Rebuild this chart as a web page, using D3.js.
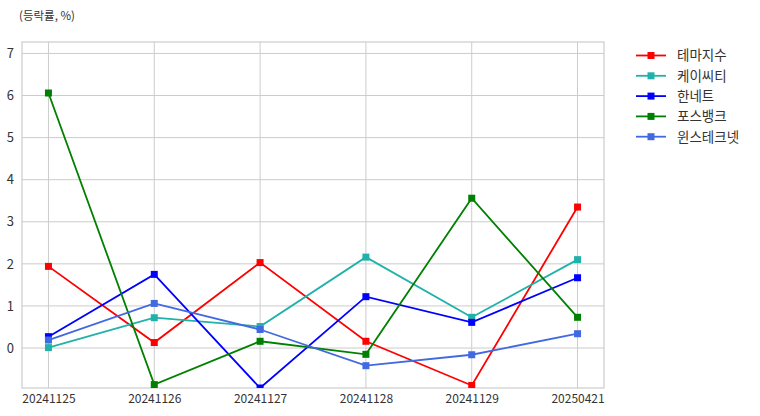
<!DOCTYPE html>
<html><head><meta charset="utf-8">
<script src="https://cdn.jsdelivr.net/npm/d3@7"></script>
<style>
body{margin:0;background:#fff;}
text{font-family:"Noto Sans CJK KR","Noto Sans",sans-serif;}
</style></head>
<body><svg id="c" width="760" height="416"></svg>
<script>
const categories = ["20241125","20241126","20241127","20241128","20241129","20250421"];
const seriesNames = ["테마지수","케이씨티","한네트","포스뱅크","윈스테크넷"];
const seriesColors = ["#ff0000","#20b2aa","#0000ff","#008000","#4169e1"];
const themeIndex = [1.94, 0.13, 2.03, 0.16, -0.89, 3.35];
const kct = [0.01, 0.72, 0.51, 2.16, 0.73, 2.10];
const hannet = [0.27, 1.75, -0.95, 1.22, 0.61, 1.67];
const posbank = [6.06, -0.87, 0.16, -0.15, 3.56, 0.73];
const wins = [0.19, 1.06, 0.44, -0.42, -0.16, 0.34];
const yTicks = [0,1,2,3,4,5,6,7];
const seriesValues = [themeIndex, kct, hannet, posbank, wins];

const svg = d3.select("#c");
const L=22,R=604,T=42,B=388;
const x = d3.scaleLinear().domain([-0.25, categories.length-0.75]).range([L,R]);
const allVals = seriesValues.flat();
const yMax = d3.max(allVals)*1.2, yMin = d3.min(allVals);
const y = d3.scaleLinear().domain([yMin, yMax]).range([B,T]);
const grid = "#cccccc";

// grid
svg.append("g").selectAll("line").data(yTicks).join("line")
  .attr("x1",L).attr("x2",R).attr("y1",d=>y(d)).attr("y2",d=>y(d))
  .attr("stroke",grid).attr("stroke-width",1);
svg.append("g").selectAll("line").data(categories).join("line")
  .attr("x1",(d,i)=>x(i)).attr("x2",(d,i)=>x(i)).attr("y1",T).attr("y2",B)
  .attr("stroke",grid).attr("stroke-width",1);
// frame
svg.append("rect").attr("x",L).attr("y",T).attr("width",R-L).attr("height",B-T)
  .attr("fill","none").attr("stroke",grid).attr("stroke-width",1.2);

// axes labels
const yAxis = d3.axisLeft(y).tickValues(yTicks).tickSize(0).tickPadding(8).tickFormat(d3.format("d"));
const gy = svg.append("g").attr("transform",`translate(${L},0)`).call(yAxis);
gy.select(".domain").remove();
gy.selectAll("text").attr("font-size",13).attr("fill","#333");
const xAxis = d3.axisBottom(d3.scalePoint().domain(categories).range([x(0),x(categories.length-1)]))
  .tickSize(0).tickPadding(6);
const gx = svg.append("g").attr("transform",`translate(0,${B})`).call(xAxis);
gx.select(".domain").remove();
gx.selectAll("text").attr("font-size",12).attr("fill","#333");

// lines
const clip = svg.append("clipPath").attr("id","clip").append("rect")
  .attr("x",L).attr("y",T).attr("width",R-L).attr("height",B-T);
const line = d3.line().x((d,i)=>x(i)).y(d=>y(d));
const plot = svg.append("g").attr("clip-path","url(#clip)");
seriesValues.forEach((vals,si)=>{
  plot.append("path").attr("d",line(vals)).attr("fill","none")
    .attr("stroke",seriesColors[si]).attr("stroke-width",1.8);
  plot.selectAll(null).data(vals).join("rect")
    .attr("x",(d,i)=>x(i)-3.5).attr("y",d=>y(d)-3.5).attr("width",7).attr("height",7)
    .attr("fill",seriesColors[si]);
});

// title
svg.append("text").attr("x",19).attr("y",20).attr("font-size",11.5).attr("fill","#333").text("(등락률, %)");

// legend
const lg = svg.append("g");
seriesNames.forEach((n,i)=>{
  const yy = 55.5 + i*20.3;
  lg.append("line").attr("x1",636).attr("x2",666).attr("y1",yy).attr("y2",yy)
    .attr("stroke",seriesColors[i]).attr("stroke-width",1.8);
  lg.append("rect").attr("x",651-3.5).attr("y",yy-3.5).attr("width",7).attr("height",7).attr("fill",seriesColors[i]);
  lg.append("text").attr("x",677).attr("y",yy).attr("dy","0.36em").attr("font-size",13.5).attr("fill","#333").text(n);
});
</script></body></html>
